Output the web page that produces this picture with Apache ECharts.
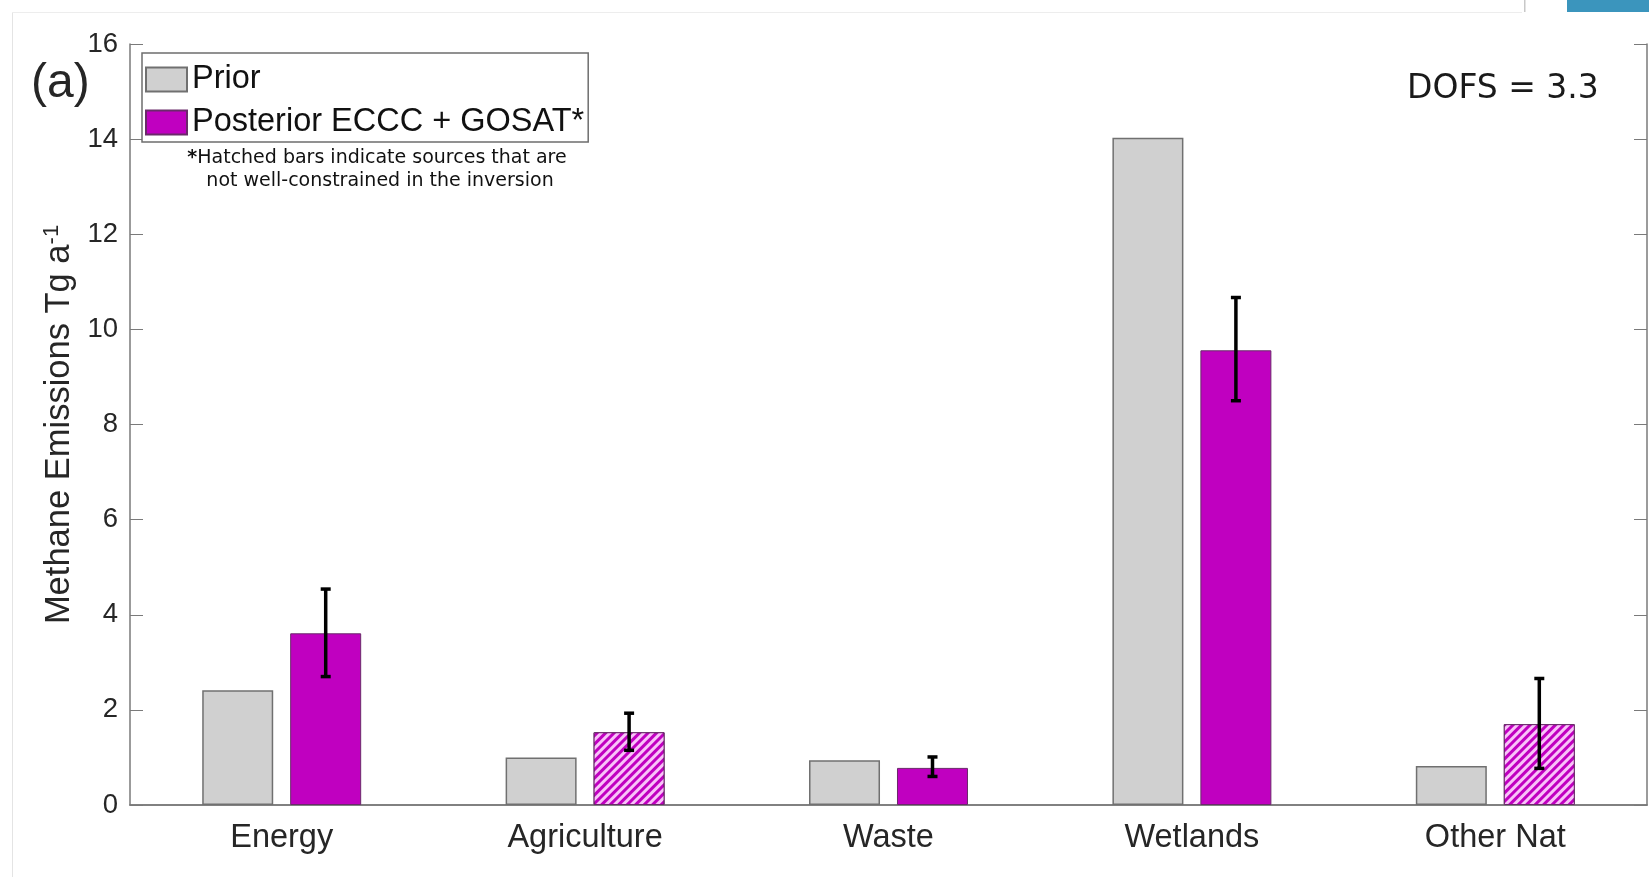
<!DOCTYPE html>
<html>
<head>
<meta charset="utf-8">
<script src="https://cdn.jsdelivr.net/npm/echarts@6/dist/echarts.min.js"></script>
<style>
  html, body { margin: 0; padding: 0; background: #fff; }
  #main { width: 1649px; height: 877px; }
</style>
</head>
<body>
<div id="main"></div>
<script>
// values (Tg a-1)
var categories = ['Energy', 'Agriculture', 'Waste', 'Wetlands', 'Other Nat'];
var priorValues = [2.41, 1.00, 0.94, 14.03, 0.82];
var posteriorValues = [3.61, 1.53, 0.78, 9.56, 1.70];
var errLow = [2.70, 1.15, 0.60, 8.50, 0.77];
var errHigh = [4.54, 1.93, 1.01, 10.67, 2.66];
var hatched = [false, true, false, false, true];
var yMin = 0, yMax = 16, yStep = 2;

var BAR_W = 71;
var BAR_GAP = 17;
var MAGENTA = '#c000c0';
var LABEL = '#262626';
var AXIS = '#7a7a7a';
var SANS = '"Liberation Sans", Arial, sans-serif';

var hatch = {
    symbol: 'rect',
    symbolSize: 1,
    color: 'rgba(255, 215, 255, 0.9)',
    dashArrayX: [1, 0],
    dashArrayY: [3, 3],
    rotation: -Math.PI / 4
};

var posteriorData = posteriorValues.map(function (v, i) {
    if (hatched[i]) {
        return { value: v, itemStyle: { decal: hatch } };
    }
    return v;
});

var errData = errLow.map(function (lo, i) {
    return [i, lo, errHigh[i]];
});

function renderErr(params, api) {
    var off = (BAR_W + BAR_GAP) / 2;
    var x = api.coord([api.value(0), 0])[0] + off;
    var yLo = api.coord([api.value(0), api.value(1)])[1];
    var yHi = api.coord([api.value(0), api.value(2)])[1];
    var cap = 5;
    var st = { stroke: '#000', lineWidth: 3.5 };
    return {
        type: 'group',
        children: [
            { type: 'line', shape: { x1: x, y1: yLo, x2: x, y2: yHi }, style: st },
            { type: 'line', shape: { x1: x - cap, y1: yHi, x2: x + cap, y2: yHi }, style: st },
            { type: 'line', shape: { x1: x - cap, y1: yLo, x2: x + cap, y2: yLo }, style: st }
        ]
    };
}

var chart = echarts.init(document.getElementById('main'));

var option = {
    backgroundColor: '#fff',
    animation: false,
    grid: { left: 130, right: 2, top: 44, bottom: 72 },
    legend: {
        orient: 'vertical',
        left: 142,
        top: 53,
        padding: [10, 4, 3, 3],
        itemWidth: 41,
        itemHeight: 24,
        itemGap: 10,
        icon: 'rect',
        backgroundColor: '#fff',
        borderColor: '#6e6e6e',
        borderWidth: 1.5,
        selectedMode: false,
        textStyle: { fontSize: 32.5, color: '#111', fontFamily: SANS },
        data: ['Prior', 'Posterior ECCC + GOSAT*']
    },
    xAxis: [{
        type: 'category',
        data: categories,
        position: 'bottom',
        axisLine: { lineStyle: { color: AXIS, width: 1.5 } },
        axisTick: { inside: true, alignWithLabel: true, length: 13, lineStyle: { color: AXIS } },
        axisLabel: { fontSize: 32.5, color: LABEL, fontFamily: SANS, margin: 17 }
    }, {
        type: 'category',
        data: categories,
        position: 'top',
        axisLine: { lineStyle: { color: AXIS, width: 1.5 } },
        axisTick: { inside: true, alignWithLabel: true, length: 13, lineStyle: { color: AXIS } },
        axisLabel: { show: false }
    }],
    yAxis: [{
        type: 'value',
        min: yMin,
        max: yMax,
        interval: yStep,
        position: 'left',
        axisLine: { show: true, onZero: false, lineStyle: { color: AXIS, width: 1.5 } },
        axisTick: { show: true, inside: true, length: 13, lineStyle: { color: AXIS } },
        splitLine: { show: false },
        axisLabel: { fontSize: 27.5, color: LABEL, fontFamily: SANS, margin: 12 },
        name: 'Methane Emissions Tg a{sup|-1}',
        nameLocation: 'middle',
        nameGap: 50,
        nameRotate: 90,
        nameTextStyle: {
            fontSize: 34.5,
            color: LABEL,
            fontFamily: SANS,
            rich: {
                sup: { fontSize: 22, color: LABEL, fontFamily: SANS, verticalAlign: 'top', lineHeight: 36 }
            }
        }
    }, {
        type: 'value',
        min: yMin,
        max: yMax,
        interval: yStep,
        position: 'right',
        axisLine: { show: true, onZero: false, lineStyle: { color: AXIS, width: 1.5 } },
        axisTick: { show: true, inside: true, length: 13, lineStyle: { color: AXIS } },
        splitLine: { show: false },
        axisLabel: { show: false }
    }],
    series: [{
        name: 'Prior',
        type: 'bar',
        barWidth: BAR_W,
        barGap: (BAR_GAP / BAR_W * 100).toFixed(1) + '%',
        itemStyle: { color: '#d0d0d0', borderColor: '#707070', borderWidth: 1.5 },
        data: priorValues
    }, {
        name: 'Posterior ECCC + GOSAT*',
        type: 'bar',
        barWidth: BAR_W,
        itemStyle: { color: MAGENTA, borderColor: '#6a2a6a', borderWidth: 1 },
        data: posteriorData
    }, {
        name: 'err',
        type: 'custom',
        renderItem: renderErr,
        encode: { x: 0, y: [1, 2] },
        z: 10,
        data: errData
    }],
    graphic: [
        { type: 'rect', shape: { x: 12, y: 12, width: 1, height: 865 }, style: { fill: '#e4e4e4' }, silent: true },
        { type: 'rect', shape: { x: 12, y: 12, width: 1510, height: 1 }, style: { fill: '#ededed' }, silent: true },
        { type: 'rect', shape: { x: 1567, y: 0, width: 82, height: 12 }, style: { fill: '#3b95bd' }, silent: true },
        { type: 'rect', shape: { x: 1524, y: 0, width: 1.5, height: 12 }, style: { fill: '#c8c8c8' }, silent: true },
        {
            type: 'text', left: 31, top: 60,
            style: { text: '(a)', fontSize: 48, fill: LABEL, fontFamily: SANS }
        },
        {
            type: 'text', left: 1407, top: 73,
            style: { text: 'DOFS = 3.3', fontSize: 33, fill: '#1a1a1a', fontFamily: '"DejaVu Sans", Verdana, sans-serif' }
        },
        {
            type: 'text', x: 377, y: 170, z: 20,
            style: {
                text: '{b|*}Hatched bars indicate sources that are\n not well-constrained in the inversion',
                align: 'center',
                verticalAlign: 'middle',
                fontSize: 19,
                lineHeight: 23,
                fill: '#111',
                fontFamily: '"DejaVu Sans", Verdana, sans-serif',
                rich: { b: { fontWeight: 'bold', fontSize: 19, fontFamily: '"DejaVu Sans", sans-serif', fill: '#111' } }
            }
        }
    ]
};

chart.setOption(option);
</script>
</body>
</html>
